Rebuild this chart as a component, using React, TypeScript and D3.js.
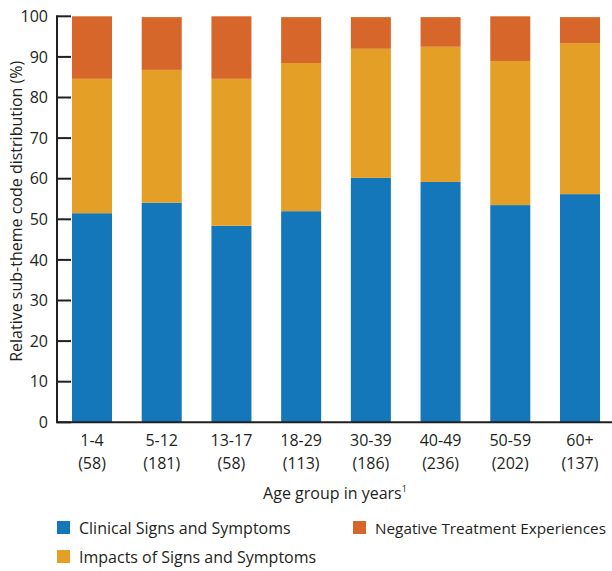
import React from "react";
import * as d3 from "d3";

const categories = ["1-4", "5-12", "13-17", "18-29", "30-39", "40-49", "50-59", "60+"];
const counts = ["(58)", "(181)", "(58)", "(113)", "(186)", "(236)", "(202)", "(137)"];
const clinical = [51.5, 54.1, 48.4, 52.0, 60.2, 59.2, 53.5, 56.2];
const impacts = [33.1, 32.7, 36.2, 36.5, 31.8, 33.3, 35.5, 37.2];
const negative = [15.4, 13.0, 15.4, 11.3, 7.8, 7.3, 11.0, 6.4];
const seriesNames = ["Clinical Signs and Symptoms", "Impacts of Signs and Symptoms", "Negative Treatment Experiences"];
const yTicks = [0, 10, 20, 30, 40, 50, 60, 70, 80, 90, 100];

const W = 612;
const H = 571;
const FONT = "'Open Sans', 'Noto Sans', sans-serif";
const TEXT = "#231f20";
const colors = ["#1477b9", "#e49f27", "#d6662a"];

export default function App() {
  const left = 57;
  const top = 16.3;
  const bottom = 422.3;
  const x = d3.scaleBand<string>().domain(categories).range([57, 615]).paddingInner(0.426).paddingOuter(0.215);
  const y = d3.scaleLinear().domain([0, 100]).range([bottom, top]);

  const rows = categories.map((c, i) => ({ cat: c, clinical: clinical[i], impacts: impacts[i], negative: negative[i] }));
  const stack = d3.stack<any>().keys(["clinical", "impacts", "negative"]);
  const layers = stack(rows);

  const legend = [
    { i: 0, lx: 57, ly: 521, fs: 16 },
    { i: 1, lx: 57, ly: 550, fs: 16 },
    { i: 2, lx: 353, ly: 521, fs: 15.3 },
  ];

  return (
    <svg width={W} height={H} style={{ position: "absolute", left: 0, top: 0, background: "#fff" }} fontFamily={FONT}>
      {layers.map((layer, li) => (
        <g key={li} fill={colors[li]}>
          {layer.map((d, i) => (
            <rect key={i} x={x(categories[i])} width={x.bandwidth()} y={y(d[1])} height={y(d[0]) - y(d[1])} />
          ))}
        </g>
      ))}
      {/* y axis */}
      <line x1={left} x2={left} y1={top - 1} y2={bottom} stroke={TEXT} strokeWidth={2} />
      {yTicks.map((t) => (
        <g key={t}>
          <line x1={left} x2={left + 14} y1={y(t)} y2={y(t)} stroke={TEXT} strokeWidth={2} />
          <text x={left - 9} y={y(t)} dy="0.36em" textAnchor="end" fontSize={16} fill={TEXT}>{t}</text>
        </g>
      ))}
      {/* x axis */}
      <line x1={left - 1} x2={W} y1={bottom} y2={bottom} stroke={TEXT} strokeWidth={2} />
      {categories.map((c, i) => (
        <g key={c} transform={`translate(${(x(c) as number) + x.bandwidth() / 2},0)`}>
          <text y={446} textAnchor="middle" fontSize={16} fill={TEXT}>{c}</text>
          <text y={469} textAnchor="middle" fontSize={16} fill={TEXT}>{counts[i]}</text>
        </g>
      ))}
      <text x={335} y={499} textAnchor="middle" fontSize={16} fill={TEXT}>
        Age group in years<tspan fontSize={9} dy={-7}>1</tspan>
      </text>
      <text transform={`translate(22,${(top + bottom) / 2 - 8}) rotate(-90)`} textAnchor="middle" fontSize={16} fill={TEXT}>
        Relative sub-theme code distribution (%)
      </text>
      {/* legend */}
      {legend.map(({ i, lx, ly, fs }) => (
        <g key={i}>
          <rect x={lx} y={ly} width={13} height={13} fill={colors[i]} />
          <text x={lx + 22} y={ly + 12.5} fontSize={fs} fill={TEXT}>
            {seriesNames[i]}
          </text>
        </g>
      ))}
    </svg>
  );
}
